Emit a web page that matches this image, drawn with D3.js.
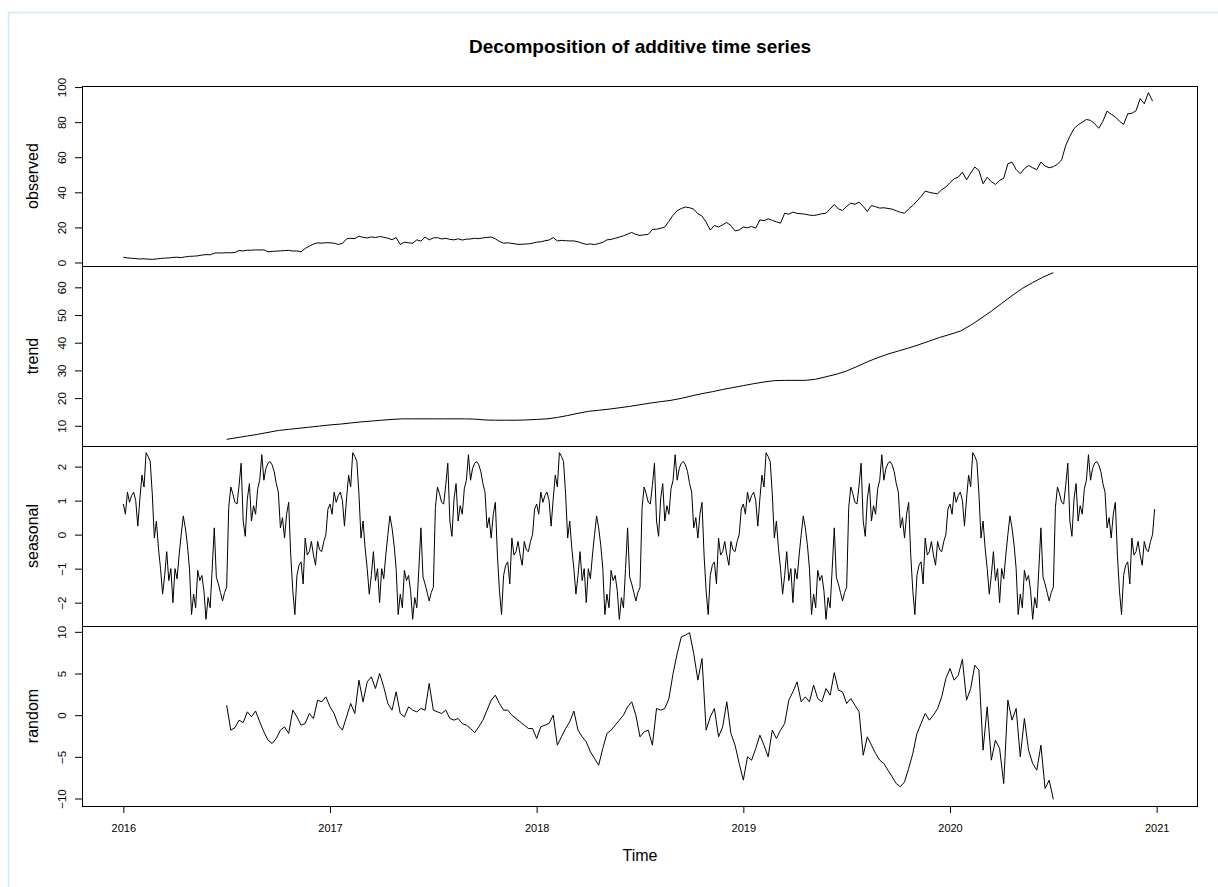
<!DOCTYPE html>
<html>
<head>
<meta charset="utf-8">
<script src="https://cdn.jsdelivr.net/npm/d3@7"></script>
<style>
  html, body { margin: 0; padding: 0; background: #fff; }
  svg { display: block; font-family: "Liberation Sans", Arial, sans-serif; }
</style>
</head>
<body>
<svg id="chart" width="1218" height="887"></svg>
<script>
// ---- data -------------------------------------------------------------
// observed series, sampled every 0.02 years from 2016.00
const observedStart = 2016, observedStep = 0.02;
const observed = [
  3.0, 2.6, 2.4, 2.2, 2.0, 2.1, 1.9, 1.8, 2.0, 2.3,
  2.5, 2.6, 2.9, 3.0, 2.8, 3.2, 3.5, 3.6, 3.8, 4.2,
  4.5, 4.4, 5.3, 5.5, 5.4, 5.6, 5.5, 5.7, 6.8, 6.6,
  7.0, 7.0, 7.2, 7.1, 7.2, 6.1, 6.3, 6.5, 6.6, 6.8,
  6.9, 6.5, 6.6, 6.1, 8.0, 9.3, 10.5, 11.2, 11.0, 11.3,
  11.2, 11.0, 10.3, 10.8, 13.5, 13.8, 13.6, 15.0, 14.3, 14.0,
  14.6, 14.2, 14.8, 14.4, 13.8, 13.0, 14.2, 10.3, 11.6, 11.2,
  11.0, 12.9, 12.2, 14.5, 12.9, 14.0, 14.2, 13.4, 13.8, 13.2,
  12.9, 13.5, 12.8, 13.3, 13.4, 13.8, 13.6, 14.0, 14.3, 14.5,
  13.5, 12.0, 11.0, 11.2, 10.9, 10.5, 10.3, 10.5, 10.6, 11.0,
  11.6, 11.8, 12.4, 12.8, 14.2, 12.3, 12.6, 12.4, 12.3, 12.3,
  11.8, 11.0, 10.3, 10.6, 10.2, 10.8, 11.5, 12.9, 13.2, 13.8,
  14.5, 15.2, 16.2, 17.1, 16.0, 15.4, 15.8, 16.0, 18.8, 19.0,
  19.5, 20.2, 23.5, 27.0, 29.5, 30.8, 31.6, 31.2, 30.4, 27.8,
  26.5, 23.0, 18.5, 21.1, 20.2, 21.5, 22.8, 21.0, 18.0, 18.5,
  20.2, 19.8, 20.5, 19.6, 24.3, 23.8, 24.9, 24.0, 23.2, 22.4,
  28.1, 27.5, 28.7, 28.0, 27.8, 27.5, 27.0, 26.8, 27.2, 27.8,
  28.1, 30.5, 33.1, 30.5, 29.7, 32.0, 33.8, 33.2, 34.4, 32.0,
  29.1, 32.5, 31.8, 31.0, 31.2, 30.8, 30.4, 29.5, 28.6, 28.1,
  30.5, 32.5, 35.0, 37.5, 40.7, 40.0, 39.5, 39.2, 41.5, 43.0,
  45.5, 47.7, 48.6, 51.5, 47.1, 51.0, 54.4, 52.5, 44.9, 48.6,
  46.0, 44.5, 46.8, 48.0, 56.3, 57.2, 53.0, 50.6, 53.5, 55.3,
  54.0, 52.9, 57.2, 55.0, 54.0, 54.6, 56.0, 58.5, 66.7, 72.0,
  76.3, 78.5, 80.0, 81.5, 81.0, 79.1, 76.5, 80.5, 86.3, 84.5,
  83.0, 80.5, 78.7, 84.7, 85.0, 86.5, 93.4, 90.5, 96.8, 92.0
];

// trend (centred moving average), every 0.05 years from 2016.50
const trendStart = 2016.5, trendStep = 0.05;
const trend = [
  5.1, 5.7, 6.3, 6.9, 7.6, 8.3, 8.7, 9.1, 9.5, 9.9,
  10.3, 10.6, 11.0, 11.4, 11.7, 12.0, 12.3, 12.5, 12.5, 12.5,
  12.5, 12.5, 12.5, 12.5, 12.4, 12.1, 12.0, 12.0, 12.0, 12.1,
  12.3, 12.5, 13.0, 13.7, 14.5, 15.2, 15.6, 16.0, 16.5, 17.0,
  17.6, 18.2, 18.7, 19.2, 19.9, 20.8, 21.6, 22.3, 23.1, 23.8,
  24.5, 25.2, 25.8, 26.3, 26.4, 26.4, 26.4, 26.8, 27.7, 28.6,
  29.8, 31.4, 33.1, 34.6, 35.9, 37.0, 38.1, 39.3, 40.6, 41.9,
  43.0, 44.2, 46.3, 48.8, 51.4, 54.2, 57.0, 59.6, 61.7, 63.7,
  65.3
];

// one yearly seasonal cycle, every 0.01 years; repeats each year
const seasonalStart = 2016, seasonalStep = 0.01, seasonalYears = 5;
const seasonalCycle = [
  0.9, 0.6, 1.25, 0.95, 1.15, 1.25, 1.0, 0.25, 1.05, 1.75,
  1.4, 2.41, 2.3, 2.15, 1.2, -0.1, 0.4, -0.4, -1.0, -1.75,
  -1.2, -0.5, -1.35, -1.0, -2.0, -1.0, -1.3, -0.6, 0.0, 0.55,
  0.2, -0.3, -1.0, -2.35, -1.75, -2.15, -1.05, -1.35, -1.2, -1.65,
  -2.49, -1.85, -2.15, -1.0, 0.2, -1.25, -1.45, -1.7, -1.95, -1.7,
  -1.55, 0.8, 1.4, 1.2, 0.95, 0.9, 1.45, 2.1, 0.4, -0.05,
  1.05, 1.5, 0.4, 0.85, 0.6, 1.35, 1.6, 2.35, 1.6, 1.95,
  2.1, 2.15, 2.05, 1.85, 1.5, 1.25, 0.2, 0.5, -0.1, 0.6,
  0.95, -0.6, -1.65, -2.35, -1.2, -0.9, -0.8, -1.45, -0.1, -0.6,
  -0.5, -0.2, -0.6, -0.9, -0.2, -0.45, -0.5, -0.2, 0.0, 0.75
];

// remainder, every 0.02 years from 2016.50
const randomStart = 2016.5, randomStep = 0.02;
const random = [
  1.2, -1.8, -1.5, -0.6, -0.9, 0.4, -0.2, 0.5, -0.8, -2.0,
  -3.0, -3.4, -2.8, -1.8, -1.4, -2.2, 0.6, -0.2, -1.2, -1.0,
  0.2, -0.4, 1.8, 1.6, 2.2, 1.0, 0.2, -1.2, -1.8, -0.2,
  1.4, 0.2, 4.2, 1.6, 4.0, 4.6, 3.2, 5.0, 3.4, 1.4,
  0.6, 2.8, 0.2, -0.2, 1.0, 0.6, 0.4, 0.8, 0.6, 3.8,
  0.6, 0.4, 0.2, 0.6, -0.4, -0.6, -0.4, -1.0, -1.2, -1.6,
  -2.1, -1.4, -0.6, 0.6, 1.8, 2.4, 1.4, 0.6, 0.6, 0.0,
  -0.4, -0.8, -1.2, -1.6, -1.6, -2.8, -1.4, -1.2, -1.0, 0.0,
  -3.6, -2.6, -1.6, -0.8, 0.5, -1.8, -2.6, -3.2, -4.4, -5.2,
  -6.0, -4.0, -2.2, -1.8, -1.2, -0.6, 0.0, 1.0, 1.6, 0.0,
  -2.6, -2.0, -1.8, -3.6, 0.8, 0.6, 0.8, 2.0, 5.0, 7.4,
  9.4, 9.6, 9.9, 7.4, 4.2, 6.8, -1.8, -0.2, 0.8, -2.6,
  -1.4, 1.6, -2.2, -3.6, -5.8, -7.8, -5.0, -5.4, -4.0, -2.4,
  -3.6, -5.0, -1.8, -2.8, -1.8, -1.0, 1.8, 2.8, 4.0, 1.6,
  2.2, 1.6, 3.6, 2.0, 1.6, 3.2, 2.4, 5.1, 3.0, 2.8,
  1.4, 2.0, 1.2, 0.4, -4.8, -2.6, -3.6, -4.6, -5.4, -5.8,
  -6.6, -7.4, -8.2, -8.6, -8.0, -6.4, -4.6, -2.2, -1.0, 0.2,
  -0.6, 0.0, 0.8, 2.2, 4.4, 5.6, 4.2, 4.8, 6.7, 1.8,
  3.2, 6.0, 5.4, -4.2, 1.0, -5.4, -3.0, -4.0, -8.2, 1.8,
  -0.6, 0.8, -5.0, -0.4, -4.2, -5.8, -6.6, -3.6, -8.8, -7.8,
  -10.1
];

// axis ticks and labels
const seriesSpan = [2016, 2021];
const yearTicks = [2016, 2017, 2018, 2019, 2020, 2021];
const panelNames = ["observed", "trend", "seasonal", "random"];
const observedTicks = [0, 20, 40, 60, 80, 100];
const trendTicks = [10, 20, 30, 40, 50, 60];
const seasonalTicks = [-2, -1, 0, 1, 2];
const randomTicks = [-10, -5, 0, 5, 10];
const chartTitle = "Decomposition of additive time series";
const xTitle = "Time";

// ---- helpers ------------------------------------------------------------
const toPoints = (vals, start, step) => vals.map((v, i) => ({ t: start + i * step, v }));
const seasonalValues = d3.range(seasonalYears).flatMap(() => seasonalCycle);

const panels = [
  { name: panelNames[0], pts: toPoints(observed, observedStart, observedStep), ticks: observedTicks },
  { name: panelNames[1], pts: toPoints(trend, trendStart, trendStep), ticks: trendTicks },
  { name: panelNames[2], pts: toPoints(seasonalValues, seasonalStart, seasonalStep), ticks: seasonalTicks },
  { name: panelNames[3], pts: toPoints(random, randomStart, randomStep), ticks: randomTicks }
];

// R-style 4% range extension
const extend = ([a, b]) => { const d = (b - a) * 0.04; return [a - d, b + d]; };

// ---- layout -------------------------------------------------------------
const svg = d3.select("#chart");
const W = 1218, H = 887;
const plotLeft = 82, plotRight = 1198, plotTop = 86, plotBottom = 806;
const panelH = (plotBottom - plotTop) / panels.length;

svg.append("rect").attr("width", W).attr("height", H).attr("fill", "#fff");
// thin pale frame around the page
svg.append("rect")
  .attr("x", 8.5).attr("y", 12.5).attr("width", W).attr("height", H)
  .attr("fill", "none").attr("stroke", "#cfe8f6").attr("stroke-width", 1.5);

const x = d3.scaleLinear().domain(extend(seriesSpan)).range([plotLeft, plotRight]);

svg.append("text")
  .attr("x", (plotLeft + plotRight) / 2).attr("y", 53)
  .attr("text-anchor", "middle")
  .attr("font-size", 19).attr("font-weight", "bold")
  .text(chartTitle);

panels.forEach((p, i) => {
  const top = plotTop + i * panelH, bottom = top + panelH;
  const y = d3.scaleLinear()
    .domain(extend(d3.extent(p.pts, d => d.v)))
    .range([bottom, top]);

  const g = svg.append("g");

  g.append("path")
    .datum(p.pts)
    .attr("fill", "none")
    .attr("stroke", "#000")
    .attr("stroke-width", 1)
    .attr("stroke-linejoin", "round")
    .attr("d", d3.line().x(d => x(d.t)).y(d => y(d.v)));

  // left axis with labels parallel to the axis
  const ax = g.append("g")
    .attr("transform", `translate(${plotLeft},0)`)
    .call(d3.axisLeft(y).tickValues(p.ticks).tickSize(7).tickSizeOuter(0).tickFormat(d3.format("d")));
  ax.select(".domain").remove();
  ax.selectAll(".tick line").attr("stroke", "#000");
  ax.selectAll(".tick text")
    .attr("x", 0).attr("y", -16).attr("dy", 0)
    .attr("text-anchor", "middle")
    .attr("transform", "rotate(-90)")
    .attr("font-family", "Liberation Sans, Arial, sans-serif")
    .attr("font-size", 11.5)
    .attr("fill", "#000");

  g.append("text")
    .attr("transform", `translate(38,${(top + bottom) / 2}) rotate(-90)`)
    .attr("text-anchor", "middle")
    .attr("font-size", 16)
    .text(p.name);

  g.append("rect")
    .attr("x", plotLeft + 0.5).attr("y", top + 0.5)
    .attr("width", plotRight - plotLeft - 1).attr("height", panelH)
    .attr("fill", "none").attr("stroke", "#000").attr("stroke-width", 1);
});

// shared time axis at the bottom
const xa = svg.append("g")
  .attr("transform", `translate(0,${plotBottom})`)
  .call(d3.axisBottom(x).tickValues(yearTicks).tickSize(7).tickPadding(11).tickSizeOuter(0).tickFormat(d3.format("d")));
xa.select(".domain").remove();
xa.selectAll(".tick line").attr("stroke", "#000");
xa.selectAll(".tick text")
  .attr("font-family", "Liberation Sans, Arial, sans-serif")
  .attr("font-size", 11)
  .attr("fill", "#000");

svg.append("text")
  .attr("x", (plotLeft + plotRight) / 2).attr("y", 861)
  .attr("text-anchor", "middle")
  .attr("font-size", 16)
  .text(xTitle);
</script>
</body>
</html>
